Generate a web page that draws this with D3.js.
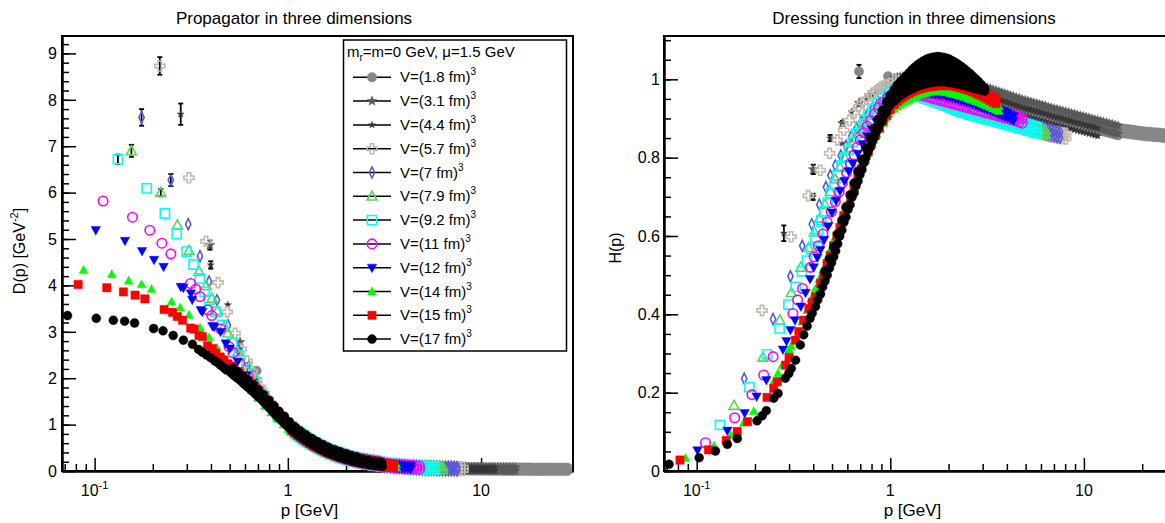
<!DOCTYPE html>
<html><head><meta charset="utf-8">
<script src="https://cdn.jsdelivr.net/npm/d3@7"></script>
<style>
body{margin:0;background:#fff}
svg{display:block}
text{font-family:"Liberation Sans",Arial,Helvetica,sans-serif;fill:#000}
</style>
</head><body>
<svg id="c" width="1165" height="523"></svg>
<script>
// ---------------- DATA ----------------
const volumes = ["1.8","3.1","4.4","5.7","7","7.9","9.2","11","12","14","15","17"];
const colors  = ["#878787","#595959","#363636","#c3b9ad","#5c58d8","#5bd556","#00ffff","#ff00ff","#0000ff","#00ff00","#ff0000","#000000"];
const shapes  = ["circle","star","star","cross","diamond","triup","square","circle","tridown","triup","square","circle"];
const filled  = [true,true,true,false,false,false,false,false,true,true,true,true];
const pMax    = [27.94,15.0,11.78,8.057,7.519,6.326,5.703,4.799,4.327,3.64,3.516,3.08];
const xTicks  = [0.1,1,10];
const yTicksD = [0,1,2,3,4,5,6,7,8,9];
const yTicksH = [0,0.2,0.4,0.6,0.8,1];
const yLabelsH = ["0","0.2","0.4","0.6","0.8","1"];

// fine high-momentum grid (GeV) shared by the dense tails
const gridF = [1.05,1.087,1.125,1.164,1.205,1.248,1.291,1.337,1.384,1.432,1.483,1.535,1.589,1.644,1.702,1.762,1.824,1.888,1.954,2.023,2.094,2.168,2.244,2.323,2.405,2.489,2.577,2.667,2.761,2.858,2.958,3.063,3.17,3.282,3.397,3.516,3.64,3.768,3.9,4.037,4.18,4.327,4.478,4.636,4.799,4.967,5.142,5.322,5.509,5.703,5.904,6.112,6.326,6.549,6.779,7.017,7.264,7.519,7.783,8.057,8.34,8.633,8.937,9.251,9.576,9.913,10.26,10.62,11.0,11.38,11.78,12.2,12.62,13.07,13.53,14.0,14.49,15.0,15.53,16.08,16.64,17.23,17.83,18.46,19.11,19.78,20.47,21.19,21.94,22.71,23.51,24.33,25.19,26.07,26.99,27.94];
// propagator on the grid: lower and upper edge of the dense band (GeV^-2)
const DgridLo = [0.871,0.819,0.770,0.725,0.680,0.638,0.599,0.561,0.526,0.493,0.461,0.431,0.403,0.377,0.352,0.329,0.307,0.286,0.267,0.248,0.231,0.215,0.200,0.186,0.173,0.160,0.149,0.138,0.128,0.119,0.111,0.103,0.0953,0.0885,0.0822,0.0763,0.0708,0.0657,0.0610,0.0566,0.0525,0.0488,0.0453,0.0420,0.0390,0.0363,0.0337,0.0313,0.0291,0.0270,0.0251,0.0234,0.0217,0.0202,0.0188,0.0175,0.0163,0.0151,0.0141,0.0131,0.0128,0.0119,0.0111,0.0103,0.0096,0.0090,0.0083,0.0078,0.0072,0.0067,0.0063,0.0058,0.0054,0.0051,0.0047,0.0044,0.0041,0.0038,0.0036,0.0033,0.0031,0.0029,0.0027,0.0025,0.0024,0.0022,0.0021,0.0019,0.0018,0.0017,0.0016,0.0015,0.0014,0.0013,0.0012,0.0011];
const DgridHi = [0.961,0.909,0.86,0.815,0.77,0.728,0.689,0.651,0.616,0.583,0.551,0.521,0.493,0.467,0.442,0.419,0.397,0.376,0.357,0.338,0.321,0.305,0.29,0.276,0.263,0.25,0.239,0.228,0.218,0.209,0.201,0.173,0.165,0.158,0.152,0.146,0.141,0.136,0.131,0.127,0.122,0.119,0.115,0.112,0.109,0.106,0.104,0.101,0.099,0.097,0.095,0.093,0.092,0.09,0.089,0.087,0.086,0.085,0.084,0.083,0.083,0.082,0.081,0.08,0.08,0.079,0.078,0.078,0.077,0.077,0.076,0.076,0.075,0.075,0.075,0.074,0.074,0.074,0.074,0.073,0.073,0.073,0.073,0.072,0.072,0.072,0.072,0.072,0.072,0.072,0.072,0.071,0.071,0.071,0.071,0.071];

// propagator D(p), low and intermediate momenta: [p, D, err]
const prop18 = [[0.689,2.16],[0.974,1.06]];
const prop31 = [[0.395,4.87,0.1],[0.566,2.78],[0.69,1.98],[0.80,1.50],[0.9,1.21],[1.0,0.99]];
const prop44 = [[0.279,7.69,0.23],[0.399,4.44,0.08],[0.489,3.58],[0.564,2.63],[0.63,2.31],[0.69,1.96],[0.75,1.69],[0.80,1.5],[0.85,1.35],[0.9,1.22],[0.95,1.10],[1.0,0.985]];
const prop57 = [[0.2175,8.73,0.19],[0.3076,6.32],[0.377,4.95],[0.435,4.06],[0.486,3.43],[0.533,2.97],[0.575,2.63],[0.615,2.37],[0.6525,2.15],[0.688,1.96],[0.72,1.81],[0.753,1.68],[0.784,1.56],[0.814,1.46],[0.842,1.37],[0.87,1.29],[0.897,1.22],[0.923,1.15],[0.95,1.09],[1.0,0.99]];
const prop70 = [[0.175,7.62,0.18],[0.248,6.27,0.13],[0.305,5.32],[0.351,4.63],[0.391,4.08],[0.43,3.68],[0.49,3.14],[0.555,2.61],[0.63,2.15],[0.71,1.77],[0.81,1.41],[0.94,1.08],[1.0,0.963]];
const prop79 = [[0.155,6.90,0.13],[0.220,6.0,0.08],[0.268,5.30],[0.308,4.75],[0.347,4.30],[0.378,3.99],[0.405,3.72],[0.432,3.45],[0.467,3.11],[0.49,2.97],[0.55,2.56],[0.615,2.18],[0.69,1.83],[0.78,1.50],[0.89,1.19],[1.02,0.925]];
const prop92 = [[0.132,6.72,0.1],[0.186,6.09],[0.231,5.55],[0.266,5.11],[0.299,4.73],[0.325,4.45],[0.35,4.15],[0.371,3.86],[0.391,3.69],[0.423,3.43],[0.458,3.15],[0.515,2.76],[0.56,2.49],[0.61,2.20],[0.67,1.92],[0.735,1.66],[0.81,1.41],[0.91,1.15],[1.04,0.895]];
const prop110 = [[0.1106,5.82],[0.157,5.47],[0.193,5.19],[0.223,4.91],[0.248,4.68],[0.314,4.04],[0.334,3.92],[0.351,3.76],[0.386,3.47],[0.404,3.35],[0.449,3.06],[0.496,2.68],[0.52,2.55],[0.565,2.32],[0.622,2.04],[0.674,1.83],[0.73,1.63],[0.79,1.45],[0.87,1.23],[0.97,1.02]];
const prop120 = [[0.1014,5.19],[0.1436,4.96],[0.176,4.74],[0.203,4.55],[0.2275,4.40],[0.279,3.97],[0.288,3.95],[0.315,3.83],[0.320,3.69],[0.354,3.47],[0.361,3.43],[0.407,3.125],[0.415,3.11],[0.449,3.0],[0.477,2.75],[0.50,2.64],[0.55,2.36],[0.61,2.06],[0.68,1.75],[0.76,1.48],[0.85,1.23],[0.95,1.02],[1.0,0.93]];
const prop140 = [[0.0876,4.33],[0.1227,4.24],[0.150,4.10],[0.175,4.02],[0.197,3.92],[0.250,3.65],[0.277,3.52],[0.308,3.36],[0.351,3.09],[0.391,2.88],[0.43,2.65],[0.47,2.44],[0.51,2.27],[0.55,2.10],[0.60,1.90],[0.65,1.73],[0.70,1.57],[0.76,1.40],[0.82,1.26],[0.88,1.13],[0.95,1.0],[1.02,0.89]];
const prop150 = [[0.0822,4.02],[0.1156,3.95],[0.141,3.86],[0.162,3.79],[0.182,3.71],[0.229,3.48],[0.253,3.42],[0.268,3.33],[0.285,3.25],[0.314,3.08],[0.327,3.06],[0.347,2.92],[0.361,2.9],[0.384,2.7],[0.407,2.64],[0.423,2.54],[0.445,2.46],[0.467,2.39],[0.49,2.31],[0.51,2.26],[0.526,2.21],[0.56,2.12],[0.593,2.03],[0.63,1.94],[0.668,1.84],[0.71,1.73],[0.752,1.62],[0.8,1.5],[0.85,1.36],[0.9,1.23],[0.95,1.11],[1.0,1.0]];
const prop170 = [[0.0724,3.35],[0.102,3.29],[0.125,3.25],[0.143,3.23],[0.161,3.19],[0.202,3.07],[0.226,3.02],[0.255,2.92],[0.288,2.82],[0.321,2.73],[0.345,2.62],[0.361,2.56],[0.38,2.5],[0.399,2.44],[0.42,2.37],[0.435,2.33],[0.449,2.28],[0.465,2.23],[0.48,2.18],[0.505,2.13],[0.52,2.08],[0.535,2.04],[0.55,2.0],[0.569,1.95],[0.585,1.9],[0.60,1.86],[0.62,1.81],[0.641,1.76],[0.66,1.71],[0.68,1.66],[0.70,1.61],[0.722,1.56],[0.745,1.5],[0.77,1.44],[0.795,1.38],[0.82,1.32],[0.845,1.26],[0.87,1.2],[0.9,1.14],[0.93,1.08],[0.96,1.03],[0.99,0.98],[1.02,0.93],[1.05,0.88],[1.085,0.83],[1.12,0.785],[1.16,0.74],[1.2,0.7],[1.24,0.66],[1.28,0.62],[1.33,0.58],[1.37,0.545],[1.42,0.51],[1.47,0.475],[1.52,0.445],[1.57,0.415],[1.62,0.39],[1.68,0.365],[1.74,0.34],[1.8,0.318],[1.86,0.297],[1.93,0.275],[2.0,0.255],[2.06,0.24],[2.13,0.222],[2.2,0.207],[2.28,0.192],[2.36,0.178],[2.44,0.166],[2.52,0.155],[2.61,0.144],[2.7,0.134],[2.8,0.124],[2.89,0.116],[2.98,0.109],[3.08,0.102],
  [0.52,2.22],[0.55,2.14],[0.585,2.05],[0.62,1.96],[0.66,1.86],[0.70,1.76],[0.745,1.65],[0.795,1.53],[0.845,1.41],[0.9,1.29],[0.96,1.18],[1.02,1.06],[1.085,0.95],[1.16,0.86],[1.24,0.78],[1.33,0.70],[1.42,0.63],[1.52,0.565],[1.62,0.51],[1.74,0.46],[1.86,0.417],[2.0,0.375],[2.13,0.335],[2.28,0.3],[2.44,0.26],[2.61,0.23],[2.8,0.21],[2.98,0.195],[3.06,0.18]];

// dressing function H(p), low and intermediate momenta: [p, H, err]
const dress18 = [[0.689,1.02,0.017],[0.974,1.008]];
const dress31 = [[0.40,0.77,0.012],[0.566,0.888,0.006],[0.69,0.94],[0.80,0.96],[0.9,0.978],[1.0,0.99]];
const dress44 = [[0.282,0.607,0.02],[0.399,0.70,0.008],[0.489,0.85,0.008],[0.564,0.837],[0.63,0.917],[0.69,0.935],[0.75,0.95],[0.80,0.96],[0.85,0.97],[0.9,0.978],[0.95,0.985],[1.0,0.988]];
const dress57 = [[0.2175,0.41],[0.3076,0.598],[0.377,0.703],[0.435,0.768],[0.486,0.811],[0.533,0.845],[0.575,0.87],[0.615,0.895],[0.6525,0.915],[0.688,0.93],[0.72,0.94],[0.753,0.95],[0.784,0.958],[0.814,0.965],[0.842,0.97],[0.87,0.975],[0.897,0.98],[0.923,0.983],[0.95,0.986],[1.0,0.99]];
const dress70 = [[0.176,0.236],[0.248,0.388],[0.305,0.497],[0.351,0.575],[0.393,0.63],[0.43,0.68],[0.465,0.725],[0.49,0.755],[0.52,0.78],[0.555,0.805],[0.59,0.83],[0.63,0.855],[0.67,0.875],[0.71,0.892],[0.76,0.91],[0.81,0.927],[0.87,0.942],[0.94,0.955],[1.0,0.963]];
const dress79 = [[0.156,0.167],[0.22,0.29],[0.269,0.385],[0.308,0.455],[0.345,0.52],[0.378,0.57],[0.405,0.61],[0.432,0.645],[0.46,0.68],[0.49,0.713],[0.52,0.745],[0.55,0.775],[0.58,0.80],[0.615,0.825],[0.65,0.85],[0.69,0.87],[0.73,0.89],[0.78,0.91],[0.83,0.927],[0.89,0.94],[0.95,0.952],[1.0,0.96]];
const dress92 = [[0.132,0.118],[0.187,0.214],[0.231,0.298],[0.268,0.364],[0.298,0.425],[0.325,0.47],[0.35,0.51],[0.371,0.537],[0.391,0.566],[0.41,0.595],[0.423,0.614],[0.44,0.64],[0.458,0.663],[0.475,0.685],[0.495,0.71],[0.515,0.732],[0.535,0.755],[0.56,0.78],[0.585,0.80],[0.61,0.82],[0.64,0.84],[0.67,0.862],[0.70,0.88],[0.735,0.897],[0.77,0.91],[0.81,0.925],[0.86,0.94],[0.91,0.952],[0.97,0.962],[1.0,0.966]];
const dress110 = [[0.111,0.072],[0.157,0.136],[0.193,0.195],[0.222,0.245],[0.248,0.292],[0.314,0.402],[0.332,0.437],[0.352,0.466],[0.387,0.52],[0.404,0.547],[0.425,0.575],[0.449,0.605],[0.472,0.635],[0.496,0.662],[0.52,0.688],[0.545,0.713],[0.565,0.735],[0.595,0.762],[0.622,0.785],[0.65,0.807],[0.674,0.826],[0.70,0.845],[0.73,0.864],[0.76,0.88],[0.79,0.895],[0.83,0.912],[0.87,0.927],[0.92,0.942],[0.97,0.953],[1.0,0.958]];
const dress120 = [[0.101,0.053],[0.144,0.103],[0.177,0.148],[0.204,0.19],[0.229,0.232],[0.279,0.31],[0.291,0.332],[0.305,0.36],[0.322,0.385],[0.345,0.42],[0.365,0.455],[0.385,0.49],[0.402,0.52],[0.42,0.545],[0.436,0.565],[0.455,0.59],[0.477,0.625],[0.50,0.66],[0.525,0.69],[0.55,0.715],[0.58,0.74],[0.61,0.765],[0.64,0.785],[0.68,0.81],[0.72,0.835],[0.76,0.855],[0.80,0.872],[0.85,0.89],[0.90,0.905],[0.95,0.92],[1.0,0.93]];
const dress140 = [[0.0876,0.033],[0.123,0.064],[0.150,0.092],[0.175,0.123],[0.197,0.152],[0.250,0.228],[0.263,0.249],[0.277,0.27],[0.300,0.309],[0.308,0.319],[0.351,0.381],[0.372,0.41],[0.391,0.44],[0.41,0.465],[0.43,0.49],[0.45,0.515],[0.47,0.54],[0.49,0.565],[0.51,0.59],[0.53,0.612],[0.55,0.635],[0.575,0.66],[0.60,0.685],[0.625,0.708],[0.65,0.73],[0.675,0.75],[0.70,0.77],[0.73,0.79],[0.76,0.81],[0.79,0.828],[0.82,0.845],[0.85,0.86],[0.88,0.875],[0.915,0.888],[0.95,0.9],[0.985,0.912],[1.02,0.925]];
const dress150 = [[0.082,0.028],[0.115,0.054],[0.142,0.078],[0.162,0.101],[0.183,0.126],[0.231,0.188],[0.250,0.211],[0.261,0.228],[0.288,0.27],[0.300,0.29],[0.324,0.334],[0.337,0.356],[0.357,0.385],[0.38,0.415],[0.395,0.43],[0.411,0.445],[0.436,0.479],[0.453,0.496],[0.472,0.53],[0.49,0.55],[0.51,0.575],[0.53,0.60],[0.55,0.622],[0.575,0.652],[0.60,0.675],[0.625,0.70],[0.65,0.722],[0.68,0.748],[0.71,0.772],[0.74,0.795],[0.77,0.815],[0.80,0.835],[0.84,0.857],[0.88,0.875],[0.92,0.893],[0.96,0.908],[1.0,0.922]];
const dress170 = [[0.072,0.017],[0.103,0.034],[0.125,0.051],[0.144,0.068],[0.162,0.083],[0.205,0.128],[0.218,0.141],[0.229,0.154],[0.250,0.186],[0.263,0.198],[0.287,0.237],[0.299,0.249],[0.308,0.262],[0.324,0.283],[0.343,0.322],[0.357,0.348],[0.372,0.37],[0.385,0.39],[0.395,0.403],[0.411,0.42],[0.422,0.437],[0.436,0.452],[0.447,0.47],[0.46,0.485],[0.472,0.5],[0.485,0.518],[0.497,0.532],[0.51,0.547],[0.522,0.562],[0.535,0.58],[0.548,0.6],[0.562,0.615],[0.576,0.635],[0.59,0.648],[0.605,0.668],[0.62,0.68],[0.635,0.7],[0.65,0.71],[0.665,0.728],[0.68,0.74],[0.697,0.757],[0.713,0.77],[0.73,0.787],[0.748,0.8],[0.766,0.815],[0.785,0.826],[0.804,0.84],[0.824,0.85],[0.845,0.865],[0.866,0.874],[0.888,0.888],[0.91,0.896],[0.933,0.91],[0.956,0.917],[0.98,0.93],[1.0,0.936],[1.025,0.95],
  [0.46,0.51],[0.485,0.543],[0.51,0.572],[0.535,0.605],[0.562,0.64],[0.59,0.673],[0.62,0.705],[0.65,0.735],[0.68,0.765],[0.713,0.795],[0.748,0.825],[0.785,0.851],[0.824,0.875],[0.866,0.899],[0.91,0.921],[0.956,0.942],[1.0,0.96]];

// dressing function on the fine grid gridF (dense bands; one array per sampled level)
const hTail18a = [0.979,0.981,0.982,0.983,0.984,0.984,0.984,0.984,0.983,0.982,0.981,0.98,0.979,0.979,0.978,0.978,0.977,0.977,0.976,0.976,0.975,0.974,0.973,0.972,0.97,0.968,0.966,0.964,0.962,0.96,0.958,0.956,0.954,0.952,0.949,0.947,0.944,0.942,0.939,0.937,0.934,0.932,0.929,0.927,0.924,0.922,0.92,0.918,0.916,0.914,0.912,0.91,0.908,0.905,0.903,0.901,0.899,0.897,0.895,0.893,0.891,0.889,0.887,0.885,0.883,0.881,0.879,0.877,0.875,0.873,0.871,0.869,0.867,0.865,0.863,0.861,0.859,0.857,0.863,0.862,0.861,0.86,0.859,0.858,0.857,0.856,0.855,0.854,0.854,0.853,0.852,0.852,0.851,0.85,0.85,0.849];
const hTail18b = [0.999,1.001,1.002,1.003,1.004,1.004,1.004,1.004,1.003,1.002,1.001,1.0,0.999,0.999,0.998,0.998,0.997,0.997,0.996,0.996,0.995,0.994,0.993,0.992,0.99,0.988,0.986,0.984,0.982,0.98,0.978,0.976,0.974,0.972,0.969,0.967,0.964,0.962,0.959,0.957,0.954,0.952,0.949,0.947,0.944,0.942,0.94,0.938,0.936,0.934,0.932,0.93,0.928,0.925,0.923,0.921,0.919,0.917,0.915,0.913,0.911,0.909,0.907,0.905,0.903,0.901,0.899,0.897,0.895,0.893,0.891,0.889,0.887,0.885,0.883,0.881,0.879,0.877,0.875,0.874,0.873,0.872,0.871,0.87,0.869,0.868,0.867,0.866,0.866,0.865,0.864,0.864,0.863,0.862,0.862,0.861];
const hTail31a = [0.983,0.985,0.986,0.987,0.988,0.988,0.988,0.988,0.987,0.986,0.985,0.984,0.983,0.983,0.982,0.982,0.981,0.981,0.98,0.98,0.979,0.978,0.977,0.976,0.974,0.972,0.97,0.968,0.966,0.964,0.962,0.96,0.958,0.956,0.953,0.951,0.948,0.946,0.943,0.941,0.938,0.936,0.933,0.931,0.928,0.926,0.924,0.922,0.92,0.918,0.916,0.914,0.912,0.909,0.907,0.905,0.903,0.901,0.899,0.897,0.895,0.893,0.891,0.889,0.887,0.885,0.883,0.881,0.879,0.877,0.875,0.873,0.871,0.869,0.867,0.865,0.863,0.861];
const hTail31b = [1.003,1.005,1.006,1.007,1.008,1.008,1.008,1.008,1.007,1.006,1.005,1.004,1.003,1.003,1.002,1.002,1.001,1.001,1.0,1.0,0.999,0.998,0.997,0.996,0.994,0.992,0.99,0.988,0.986,0.984,0.982,0.98,0.978,0.976,0.973,0.971,0.968,0.966,0.963,0.961,0.958,0.956,0.953,0.951,0.948,0.946,0.944,0.942,0.94,0.938,0.936,0.934,0.932,0.929,0.927,0.925,0.923,0.921,0.919,0.917,0.915,0.913,0.911,0.909,0.907,0.905,0.903,0.901,0.899,0.897,0.895,0.893,0.891,0.889,0.887,0.885,0.883,0.881];
const hTail44a = [0.963,0.965,0.966,0.967,0.968,0.968,0.968,0.968,0.967,0.966,0.965,0.964,0.963,0.963,0.962,0.962,0.961,0.961,0.96,0.96,0.959,0.958,0.957,0.956,0.954,0.952,0.95,0.948,0.946,0.944,0.942,0.94,0.938,0.936,0.933,0.931,0.928,0.926,0.923,0.921,0.918,0.916,0.913,0.911,0.908,0.906,0.904,0.902,0.9,0.898,0.896,0.894,0.892,0.889,0.887,0.885,0.883,0.881,0.879,0.877,0.875,0.873,0.871,0.869,0.867,0.865,0.863,0.861,0.859,0.857,0.855];
const hTail44b = [0.983,0.985,0.986,0.987,0.988,0.988,0.988,0.988,0.987,0.986,0.985,0.984,0.983,0.983,0.982,0.982,0.981,0.981,0.98,0.98,0.979,0.978,0.977,0.976,0.974,0.972,0.97,0.968,0.966,0.964,0.962,0.96,0.958,0.956,0.953,0.951,0.948,0.946,0.943,0.941,0.938,0.936,0.933,0.931,0.928,0.926,0.924,0.922,0.92,0.918,0.916,0.914,0.912,0.909,0.907,0.905,0.903,0.901,0.899,0.897,0.895,0.893,0.891,0.889,0.887,0.885,0.883,0.881,0.879,0.877,0.875];
const hTail57a = [0.983,0.983,0.982,0.981,0.979,0.977,0.975,0.972,0.969,0.966,0.963,0.959,0.955,0.951,0.947,0.943,0.939,0.935,0.931,0.927,0.925,0.922,0.92,0.917,0.915,0.913,0.91,0.908,0.906,0.904,0.902,0.9,0.898,0.896,0.894,0.892,0.89,0.888,0.886,0.884,0.882,0.88,0.878,0.876,0.874,0.872,0.87,0.868,0.866,0.864,0.862,0.86,0.857,0.855,0.853,0.852,0.851,0.85,0.849,0.848];
const hTail57b = [0.997,0.997,0.996,0.995,0.993,0.991,0.989,0.986,0.983,0.98,0.977,0.973,0.969,0.965,0.961,0.957,0.953,0.949,0.945,0.941,0.939,0.936,0.934,0.931,0.929,0.927,0.924,0.922,0.92,0.918,0.916,0.914,0.912,0.91,0.908,0.906,0.904,0.902,0.9,0.898,0.896,0.894,0.892,0.89,0.888,0.886,0.884,0.882,0.88,0.878,0.876,0.874,0.871,0.869,0.867,0.866,0.865,0.864,0.863,0.862];
const hTail70a = [0.963,0.965,0.966,0.966,0.966,0.965,0.964,0.962,0.96,0.958,0.955,0.953,0.95,0.947,0.945,0.942,0.939,0.937,0.934,0.931,0.929,0.926,0.924,0.921,0.919,0.917,0.914,0.912,0.91,0.908,0.906,0.904,0.902,0.9,0.898,0.896,0.894,0.892,0.89,0.888,0.886,0.884,0.882,0.88,0.878,0.876,0.874,0.872,0.87,0.868,0.866,0.864,0.861,0.859,0.857,0.855,0.853,0.851];
const hTail70b = [0.977,0.979,0.98,0.98,0.98,0.979,0.978,0.976,0.974,0.972,0.969,0.967,0.964,0.961,0.959,0.956,0.953,0.951,0.948,0.945,0.943,0.94,0.938,0.935,0.933,0.931,0.928,0.926,0.924,0.922,0.92,0.918,0.916,0.914,0.912,0.91,0.908,0.906,0.904,0.902,0.9,0.898,0.896,0.894,0.892,0.89,0.888,0.886,0.884,0.882,0.88,0.878,0.875,0.873,0.871,0.869,0.867,0.865];
const hTail79a = [0.96,0.962,0.963,0.963,0.963,0.962,0.961,0.959,0.957,0.955,0.952,0.95,0.947,0.944,0.942,0.939,0.936,0.934,0.931,0.928,0.926,0.923,0.921,0.918,0.916,0.914,0.911,0.909,0.907,0.905,0.903,0.901,0.899,0.897,0.895,0.893,0.891,0.889,0.887,0.885,0.883,0.881,0.879,0.877,0.875,0.873,0.871,0.869,0.867,0.865,0.863,0.861,0.858];
const hTail79b = [0.972,0.974,0.975,0.975,0.975,0.974,0.973,0.971,0.969,0.967,0.964,0.962,0.959,0.956,0.954,0.951,0.948,0.946,0.943,0.94,0.938,0.935,0.933,0.93,0.928,0.926,0.923,0.921,0.919,0.917,0.915,0.913,0.911,0.909,0.907,0.905,0.903,0.901,0.899,0.897,0.895,0.893,0.891,0.889,0.887,0.885,0.883,0.881,0.879,0.877,0.875,0.873,0.87];
const hTail92a = [0.961,0.963,0.964,0.964,0.964,0.963,0.962,0.96,0.958,0.956,0.954,0.951,0.949,0.946,0.944,0.941,0.939,0.937,0.935,0.929,0.926,0.923,0.92,0.917,0.915,0.913,0.91,0.908,0.906,0.904,0.902,0.9,0.898,0.896,0.894,0.892,0.89,0.888,0.886,0.884,0.882,0.88,0.878,0.876,0.874,0.872,0.87,0.868,0.866,0.863];
const hTail92b = [0.975,0.977,0.978,0.978,0.978,0.977,0.976,0.974,0.972,0.97,0.968,0.965,0.963,0.96,0.958,0.955,0.953,0.951,0.949,0.943,0.94,0.937,0.934,0.931,0.929,0.927,0.924,0.922,0.92,0.918,0.916,0.914,0.912,0.91,0.908,0.906,0.904,0.902,0.9,0.898,0.896,0.894,0.892,0.89,0.888,0.886,0.884,0.882,0.88,0.877];
const hTail110a = [0.956,0.959,0.961,0.963,0.964,0.964,0.964,0.963,0.962,0.96,0.958,0.956,0.954,0.952,0.95,0.948,0.946,0.944,0.942,0.94,0.938,0.936,0.934,0.932,0.93,0.928,0.926,0.924,0.922,0.92,0.918,0.916,0.914,0.912,0.91,0.908,0.906,0.904,0.902,0.9,0.898,0.896,0.894,0.891,0.888];
const hTail110b = [0.968,0.971,0.973,0.975,0.976,0.976,0.976,0.975,0.974,0.972,0.97,0.968,0.966,0.964,0.962,0.96,0.958,0.956,0.954,0.952,0.95,0.948,0.946,0.944,0.942,0.94,0.938,0.936,0.934,0.932,0.93,0.928,0.926,0.924,0.922,0.92,0.918,0.916,0.914,0.912,0.91,0.908,0.906,0.903,0.9];
const hTail120a = [0.931,0.937,0.942,0.947,0.951,0.954,0.957,0.96,0.962,0.963,0.964,0.964,0.964,0.963,0.962,0.961,0.96,0.959,0.957,0.955,0.953,0.951,0.949,0.946,0.944,0.942,0.939,0.937,0.934,0.931,0.928,0.925,0.923,0.92,0.917,0.914,0.911,0.908,0.905,0.902,0.898,0.894];
const hTail120b = [0.943,0.949,0.954,0.959,0.963,0.966,0.969,0.972,0.974,0.975,0.976,0.976,0.976,0.975,0.974,0.973,0.972,0.971,0.969,0.967,0.965,0.963,0.961,0.958,0.956,0.954,0.951,0.949,0.946,0.943,0.94,0.937,0.935,0.932,0.929,0.926,0.923,0.92,0.917,0.914,0.91,0.906];
const hTail140a = [0.924,0.93,0.935,0.94,0.944,0.948,0.952,0.955,0.958,0.961,0.963,0.965,0.967,0.968,0.969,0.969,0.969,0.968,0.967,0.965,0.963,0.961,0.959,0.957,0.955,0.952,0.949,0.947,0.944,0.941,0.938,0.935,0.932,0.929,0.925,0.922,0.919];
const hTail140b = [0.936,0.942,0.947,0.952,0.956,0.96,0.964,0.967,0.97,0.973,0.975,0.977,0.979,0.98,0.981,0.981,0.981,0.98,0.979,0.977,0.975,0.973,0.971,0.969,0.967,0.964,0.961,0.959,0.956,0.953,0.95,0.947,0.944,0.941,0.937,0.934,0.931];
const hTail150a = [0.936,0.944,0.95,0.955,0.96,0.964,0.968,0.971,0.974,0.976,0.978,0.98,0.981,0.982,0.983,0.984,0.984,0.984,0.984,0.984,0.983,0.982,0.98,0.978,0.976,0.974,0.971,0.968,0.965,0.961,0.958,0.954,0.95,0.946,0.942,0.938];
const hTail150b = [0.948,0.956,0.962,0.967,0.972,0.976,0.98,0.983,0.986,0.988,0.99,0.992,0.993,0.994,0.995,0.996,0.996,0.996,0.996,0.996,0.995,0.994,0.992,0.99,0.988,0.986,0.983,0.98,0.977,0.973,0.97,0.966,0.962,0.958,0.954,0.95];
const hTail170a = [0.945,0.952,0.958,0.963,0.968,0.972,0.976,0.979,0.982,0.985,0.987,0.989,0.991,0.992,0.993,0.994,0.994,0.994,0.993,0.992,0.991,0.989,0.988,0.986,0.984,0.982,0.98,0.978,0.976,0.974,0.972,0.97];
const hTail170b = [0.955,0.963,0.97,0.975,0.981,0.987,0.992,0.996,1.0,1.004,1.007,1.01,1.012,1.013,1.014,1.015,1.015,1.015,1.013,1.012,1.01,1.007,1.005,1.002,0.998,0.995,0.992,0.988,0.984,0.981,0.977,0.973];
const hTail170c = [0.965,0.974,0.981,0.988,0.995,1.001,1.008,1.014,1.019,1.023,1.027,1.03,1.033,1.035,1.036,1.037,1.036,1.035,1.034,1.031,1.028,1.025,1.021,1.017,1.013,1.008,1.003,0.998,0.993,0.987,0.981,0.975];
const hTail170d = [0.975,0.985,0.993,1.0,1.008,1.016,1.024,1.031,1.037,1.042,1.047,1.051,1.054,1.056,1.057,1.058,1.057,1.056,1.054,1.051,1.047,1.043,1.038,1.033,1.027,1.021,1.015,1.008,1.001,0.994,0.986,0.978];

const propSeries  = [prop18,prop31,prop44,prop57,prop70,prop79,prop92,prop110,prop120,prop140,prop150,prop170];
const dressSeries = [dress18,dress31,dress44,dress57,dress70,dress79,dress92,dress110,dress120,dress140,dress150,dress170];
const dressTails  = [[hTail18a,hTail18b],[hTail31a,hTail31b],[hTail44a,hTail44b],[hTail57a,hTail57b],[hTail70a,hTail70b],[hTail79a,hTail79b],[hTail92a,hTail92b],[hTail110a,hTail110b],[hTail120a,hTail120b],[hTail140a,hTail140b],[hTail150a,hTail150b],[hTail170a,hTail170b,hTail170c,hTail170d]];

// ---------------- STYLE ----------------
const msize = [9.5,10,7,10,11,10,9.2,9.5,9.5,9,8.4,9];

function markerPath(shape, s){
  const r = s/2;
  switch(shape){
    case "circle": return `M${r},0A${r},${r} 0 1,1 ${-r},0A${r},${r} 0 1,1 ${r},0Z`;
    case "square": return `M${-r},${-r}H${r}V${r}H${-r}Z`;
    case "triup": return `M0,${-r*1.05}L${r},${r*0.75}L${-r},${r*0.75}Z`;
    case "tridown": return `M0,${r*1.05}L${r},${-r*0.75}L${-r},${-r*0.75}Z`;
    case "diamond": return `M0,${-r}L${r*0.48},0L0,${r}L${-r*0.48},0Z`;
    case "cross": { const a=r*0.34; return `M${-a},${-r}H${a}V${-a}H${r}V${a}H${a}V${r}H${-a}V${a}H${-r}V${-a}H${-a}Z`; }
    case "star": { let d=""; for(let k=0;k<10;k++){const an=-Math.PI/2+k*Math.PI/5; const rr=k%2?r*0.45:r*1.05; d+=(k?"L":"M")+(rr*Math.cos(an)).toFixed(2)+","+(rr*Math.sin(an)).toFixed(2);} return d+"Z"; }
  }
}
function styleMarker(sel, i){
  sel.attr("d", markerPath(shapes[i], msize[i]))
     .attr("fill", filled[i] ? colors[i] : "none")
     .attr("stroke", colors[i])
     .attr("stroke-width", filled[i] ? 0.4 : 1.6);
}

const svg = d3.select("#c");
svg.append("rect").attr("width",1165).attr("height",523).attr("fill","#fff");

// ---------------- PANELS ----------------
const Y0 = 471, Y1 = 36;
const xL = d3.scaleLog().domain([0.0678, 29.9]).range([62, 573]);
const yL = d3.scaleLinear().domain([0, 9.375]).range([Y0, Y1]);
const xR = d3.scaleLog().domain([0.0678, 29.9]).range([664, 1176]);
const yR = d3.scaleLinear().domain([0, 1.1106]).range([Y0, Y1]);

function minorLog(x){
  const [a,b] = x.domain(); const out=[];
  for(let e=-2;e<=2;e++) for(let k=2;k<=9;k++){ const v=k*Math.pow(10,e); if(v>=a && v<=b) out.push(v); }
  return out;
}
function minorLin(y, step){
  const [a,b] = y.domain(); const out=[];
  for(let v=a; v<=b+1e-9; v+=step) out.push(+v.toFixed(4));
  return out;
}

function drawFrame(x, y, yMajor, yMinorStep, yLabels, yLabelX){
  const g = svg.append("g");
  const [r0, r1] = x.range();
  g.append("rect").attr("x", r0).attr("y", Y1).attr("width", r1-r0).attr("height", Y0-Y1)
    .attr("fill","none").attr("stroke","#000").attr("stroke-width",2);
  const axB = g.append("g").attr("transform",`translate(0,${Y0})`);
  axB.call(d3.axisBottom(x).tickValues(xTicks).tickSize(-13).tickSizeOuter(0).tickFormat(""));
  axB.append("g").call(d3.axisBottom(x).tickValues(minorLog(x)).tickSize(-7).tickSizeOuter(0).tickFormat(""));
  const axL = g.append("g").attr("transform",`translate(${r0},0)`);
  axL.call(d3.axisLeft(y).tickValues(yMajor).tickSize(-14).tickSizeOuter(0).tickFormat(""));
  axL.append("g").call(d3.axisLeft(y).tickValues(minorLin(y, yMinorStep)).tickSize(-7).tickSizeOuter(0).tickFormat(""));
  g.selectAll(".domain").attr("stroke-width",2);
  g.selectAll(".tick line").attr("stroke-width",1.5);
  g.selectAll(".ylab").data(yMajor).enter().append("text")
    .attr("x", yLabelX).attr("y", d=>y(d)).attr("dy","0.36em")
    .attr("text-anchor","end").attr("font-size",16).text((d,k)=>yLabels[k]);
  xTicks.forEach(v=>{
    const t = g.append("text").attr("x", x(v)).attr("y", 496).attr("text-anchor","middle").attr("font-size",16);
    if (v === 0.1){ t.append("tspan").text("10"); t.append("tspan").attr("dy",-7).attr("font-size",11).text("-1"); }
    else t.text(String(v));
  });
}
drawFrame(xL, yL, yTicksD, 0.2, yTicksD.map(String), 57);
drawFrame(xR, yR, yTicksH, 0.05, yLabelsH, 660);

svg.append("text").attr("x",294).attr("y",24).attr("text-anchor","middle").attr("font-size",17).text("Propagator in three dimensions");
svg.append("text").attr("x",914).attr("y",24).attr("text-anchor","middle").attr("font-size",17).text("Dressing function in three dimensions");
svg.append("text").attr("x",309.5).attr("y",516).attr("text-anchor","middle").attr("font-size",17).text("p [GeV]");
svg.append("text").attr("x",912.5).attr("y",516).attr("text-anchor","middle").attr("font-size",17).text("p [GeV]");
const yt = svg.append("text").attr("transform","translate(25,251) rotate(-90)").attr("text-anchor","middle").attr("font-size",16);
yt.append("tspan").text("D(p) [GeV");
yt.append("tspan").attr("dy",-7).attr("font-size",11).text("-2");
yt.append("tspan").attr("dy",7).text("]");
svg.append("text").attr("transform","translate(621,248) rotate(-90)").attr("text-anchor","middle").attr("font-size",16).text("H(p)");

// ---------------- POINTS ----------------
function propPoints(i){
  const list = propSeries[i];
  const last = d3.max(list, d=>d[0]);
  const tail = [];
  gridF.forEach((p,k)=>{ if(p > last && p <= pMax[i]){ tail.push([p, DgridLo[k]]); tail.push([p, DgridHi[k]]); } });
  return list.concat(tail);
}
function dressPoints(i){
  const tail = [];
  const lv = dressTails[i];
  gridF.forEach((p,k)=>{ lv.forEach(arr=>{ if(k < arr.length) tail.push([p, arr[k]]); }); });
  return dressSeries[i].concat(tail);
}
function drawSeries(x, y, pts, i){
  const g = svg.append("g");
  pts.filter(d=>d[2]).forEach(d=>{
    const px = x(d[0]);
    g.append("line").attr("x1",px).attr("x2",px).attr("y1",y(d[1]-d[2])).attr("y2",y(d[1]+d[2])).attr("stroke","#000").attr("stroke-width",1.8);
    [d[1]-d[2], d[1]+d[2]].forEach(v=>g.append("line").attr("x1",px-2.5).attr("x2",px+2.5).attr("y1",y(v)).attr("y2",y(v)).attr("stroke","#000").attr("stroke-width",1.8));
  });
  g.selectAll("path").data(pts).enter().append("path")
    .attr("transform", d=>`translate(${x(d[0])},${y(d[1])})`)
    .call(styleMarker, i);
}
volumes.forEach((v,i)=>{
  drawSeries(xL, yL, propPoints(i), i);
  drawSeries(xR, yR, dressPoints(i), i);
});

// ---------------- LEGEND ----------------
const lg = svg.append("g");
lg.append("rect").attr("x",343.5).attr("y",40).attr("width",223).attr("height",311)
  .attr("fill","#fff").attr("stroke","#000").attr("stroke-width",1.5);
const hd = lg.append("text").attr("x",347).attr("y",57).attr("font-size",15);
hd.append("tspan").text("m");
hd.append("tspan").attr("dy",4).attr("font-size",10).text("r");
hd.append("tspan").attr("dy",-4).text("=m=0 GeV, \u03bc=1.5 GeV");
volumes.forEach((v,i)=>{
  const cy = 77.3 + i*23.8;
  lg.append("line").attr("x1",353).attr("x2",391).attr("y1",cy).attr("y2",cy).attr("stroke","#000").attr("stroke-width",1.5);
  lg.append("path").attr("transform",`translate(372,${cy})`).call(styleMarker, i);
  const t = lg.append("text").attr("x",400).attr("y",cy+5).attr("font-size",15);
  t.append("tspan").text(`V=(${v} fm)`);
  t.append("tspan").attr("dy",-7).attr("font-size",10).text("3");
});
</script>
</body></html>
